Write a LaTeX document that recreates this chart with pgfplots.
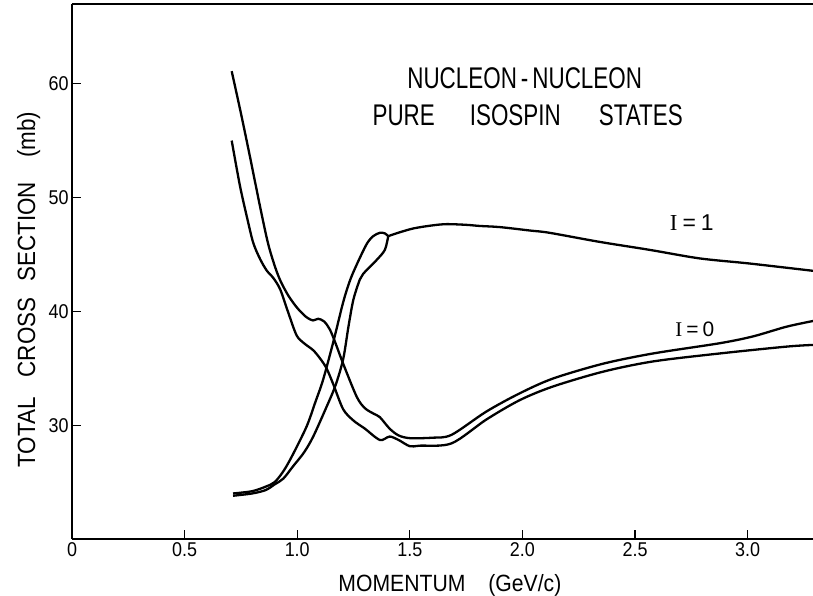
\documentclass[border=0pt]{standalone}
\usepackage{pgfplots}
\pgfplotsset{compat=1.18}
\usepackage{fontspec}
\setmainfont{Liberation Sans}
\newfontfamily\titlefont{Liberation Sans}[FakeStretch=0.75]
\newfontfamily\labfont{Liberation Sans}[FakeStretch=0.9]
\newfontfamily\serifI{Liberation Serif}
\pgfplotsset{curve/.style={black, line width=2.3bp, smooth, mark=none}}

\begin{document}
\begin{tikzpicture}
\useasboundingbox (-72bp,-57bp) rectangle (741bp,539bp);
\begin{axis}[
  at={(0,0)}, anchor=south west,
  width=741bp, height=535bp, scale only axis,
  xmin=0, xmax=3.29, ymin=20, ymax=67,
  axis x line*=box, axis y line*=left,
  xtick={0,0.5,1,1.5,2,2.5,3},
  xticklabels={0,0.5,1.0,1.5,2.0,2.5,3.0},
  ytick={30,40,50,60}, yticklabels={30,40,50,60},
  xtick pos=left, ytick pos=left,
  tick align=inside,
  major tick length=9bp,
  ticklabel style={font=\labfont\fontsize{20}{24}\selectfont},
  axis line style={line width=1.3bp},
  tick style={line width=1.3bp, black},
  clip=false,
  xlabel={MOMENTUM\hspace{23bp}(GeV/c)},
  xlabel style={font=\labfont\fontsize{23.6}{28}\selectfont, at={(axis description cs:0.51,-0.0985)}, anchor=base},
  ylabel={TOTAL\hspace{20bp}CROSS\hspace{16bp}SECTION\hspace{24bp}(mb)},
  ylabel style={font=\labfont\fontsize{25}{30}\selectfont, at={(axis description cs:-0.0499,0.466)}, anchor=base},
]
% I=0 upper
\addplot[curve] coordinates {(0.709,61.1) (0.75,57.4) (0.79,53.6) (0.835,49.2) (0.87,46.0) (0.90,44.0) (0.925,42.7) (0.96,41.4) (1.00,40.3) (1.04,39.5) (1.07,39.2) (1.093,39.35) (1.12,39.1) (1.145,38.4) (1.17,37.2) (1.204,35.4) (1.264,32.5) (1.30,31.5) (1.34,31.0) (1.367,30.7) (1.41,29.7) (1.45,29.1) (1.50,28.86) (1.60,28.9) (1.685,29.15) (1.84,31.2) (1.988,32.8) (2.136,34.1) (2.358,35.4) (2.58,36.3) (2.876,37.2) (3.024,37.8) (3.172,38.65) (3.29,39.15)};
% I=0 lower
\addplot[curve] coordinates {(0.709,55.0) (0.746,51.0) (0.78,48.0) (0.805,46.0) (0.835,44.6) (0.864,43.6) (0.895,42.9) (0.925,41.9) (0.96,39.9) (0.997,37.9) (1.03,37.2) (1.07,36.6) (1.10,35.9) (1.13,35.0) (1.16,33.6) (1.204,31.4) (1.25,30.4) (1.30,29.7) (1.367,28.7) (1.41,29.0) (1.45,28.7) (1.50,28.15) (1.545,28.2) (1.685,28.4) (1.84,30.5) (1.988,32.2) (2.136,33.4) (2.358,34.7) (2.58,35.6) (2.876,36.3) (3.172,36.9) (3.29,37.05)};
% I=1 left branch
\addplot[curve] coordinates {(0.715,24.0) (0.80,24.2) (0.86,24.6) (0.90,25.0) (0.94,26.0) (0.98,27.4) (1.042,29.9) (1.08,32.0) (1.115,34.0) (1.16,37.3) (1.204,40.8) (1.234,42.7) (1.264,44.1) (1.308,45.9) (1.337,46.6) (1.367,46.9) (1.389,46.85) (1.404,46.6)};
% I=1 right branch
\addplot[curve] coordinates {(0.715,23.8) (0.80,24.0) (0.86,24.3) (0.90,24.8) (0.938,25.3) (0.982,26.4) (1.03,27.6) (1.071,29.0) (1.13,31.6) (1.17,33.5) (1.204,35.8) (1.227,38.6) (1.249,41.0) (1.278,42.8) (1.293,43.3) (1.352,44.5) (1.389,45.4) (1.404,46.6)};
% I=1 single line
\addplot[curve] coordinates {(1.404,46.6) (1.44,46.85) (1.515,47.28) (1.60,47.55) (1.663,47.66) (1.75,47.6) (1.811,47.5) (1.90,47.4) (2.033,47.1) (2.12,46.9) (2.343,46.1) (2.565,45.4) (2.787,44.65) (3.009,44.2) (3.29,43.56)};

\node[font=\titlefont\fontsize{30}{36}\selectfont, anchor=base] at (axis cs:2.01,59.59) {NUCLEON\hspace{4bp}-\hspace{4bp}NUCLEON};
\node[font=\titlefont\fontsize{30}{36}\selectfont, anchor=base] at (axis cs:2.023,56.34) {PURE\hspace{35bp}ISOSPIN\hspace{38bp}STATES};
\node[font=\fontsize{23}{28}\selectfont, anchor=base] at (axis cs:2.752,47.13) {{\serifI I}\hspace{5bp}=\hspace{5bp}1};
\node[font=\fontsize{21}{26}\selectfont, anchor=base] at (axis cs:2.765,37.77) {{\serifI I}\hspace{4bp}=\hspace{4bp}0};
\end{axis}
\end{tikzpicture}
\end{document}
